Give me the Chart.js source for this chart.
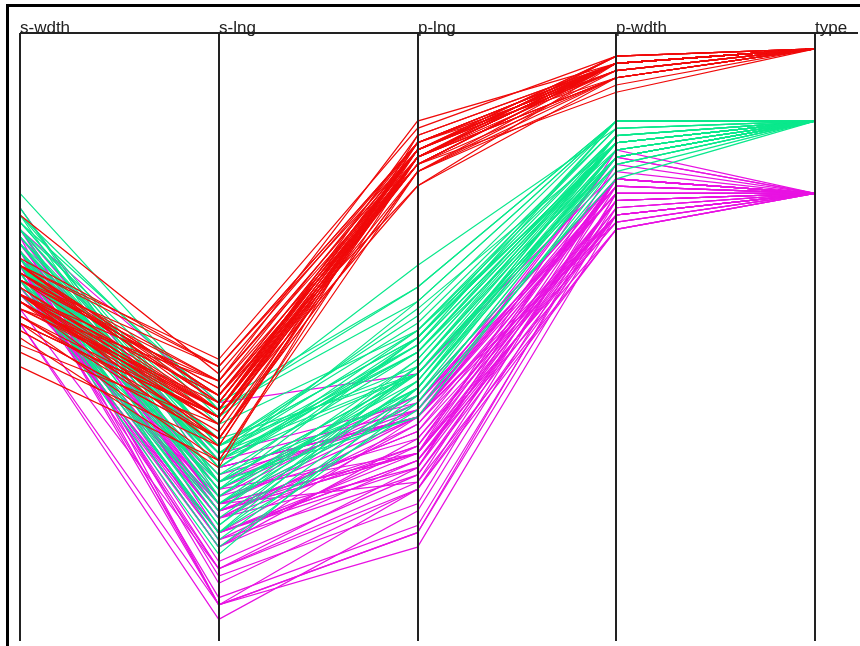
<!DOCTYPE html>
<html>
<head>
<meta charset="utf-8">
<script src="https://cdn.jsdelivr.net/npm/chart.js@4/dist/chart.umd.min.js"></script>
<style>
  body { margin: 0; background: #fff; }
  canvas { display: block; }
</style>
</head>
<body>
<canvas id="irisChart" width="860" height="646"></canvas>
<script>
// axis names, left to right
const axisNames = ["s-wdth", "s-lng", "p-lng", "p-wdth", "type"];
const classColors = ["rgb(240,10,10)", "rgb(10,232,140)", "rgb(232,18,226)"];

// each row: sepal width, sepal length, petal length, petal width
const setosa = [
  [3.5,5.1,1.4,0.2],[3.0,4.9,1.4,0.2],[3.2,4.7,1.3,0.2],[3.1,4.6,1.5,0.2],[3.6,5.0,1.4,0.2],
  [3.9,5.4,1.7,0.4],[3.4,4.6,1.4,0.3],[3.4,5.0,1.5,0.2],[2.9,4.4,1.4,0.2],[3.1,4.9,1.5,0.1],
  [3.7,5.4,1.5,0.2],[3.4,4.8,1.6,0.2],[3.0,4.8,1.4,0.1],[3.0,4.3,1.1,0.1],[4.0,5.8,1.2,0.2],
  [4.4,5.7,1.5,0.4],[3.9,5.4,1.3,0.4],[3.5,5.1,1.4,0.3],[3.8,5.7,1.7,0.3],[3.8,5.1,1.5,0.3],
  [3.4,5.4,1.7,0.2],[3.7,5.1,1.5,0.4],[3.6,4.6,1.0,0.2],[3.3,5.1,1.7,0.5],[3.4,4.8,1.9,0.2],
  [3.0,5.0,1.6,0.2],[3.4,5.0,1.6,0.4],[3.5,5.2,1.5,0.2],[3.4,5.2,1.4,0.2],[3.2,4.7,1.6,0.2],
  [3.1,4.8,1.6,0.2],[3.4,5.4,1.5,0.4],[4.1,5.2,1.5,0.1],[4.2,5.5,1.4,0.2],[3.1,4.9,1.5,0.2],
  [3.2,5.0,1.2,0.2],[3.5,5.5,1.3,0.2],[3.6,4.9,1.4,0.1],[3.0,4.4,1.3,0.2],[3.4,5.1,1.5,0.2],
  [3.5,5.0,1.3,0.3],[2.3,4.5,1.3,0.3],[3.2,4.4,1.3,0.2],[3.5,5.0,1.6,0.6],[3.8,5.1,1.9,0.4],
  [3.0,4.8,1.4,0.3],[3.8,5.1,1.6,0.2],[3.2,4.6,1.4,0.2],[3.7,5.3,1.5,0.2],[3.3,5.0,1.4,0.2]
];
const versicolor = [
  [3.2,7.0,4.7,1.4],[3.2,6.4,4.5,1.5],[3.1,6.9,4.9,1.5],[2.3,5.5,4.0,1.3],[2.8,6.5,4.6,1.5],
  [2.8,5.7,4.5,1.3],[3.3,6.3,4.7,1.6],[2.4,4.9,3.3,1.0],[2.9,6.6,4.6,1.3],[2.7,5.2,3.9,1.4],
  [2.0,5.0,3.5,1.0],[3.0,5.9,4.2,1.5],[2.2,6.0,4.0,1.0],[2.9,6.1,4.7,1.4],[2.9,5.6,3.6,1.3],
  [3.1,6.7,4.4,1.4],[3.0,5.6,4.5,1.5],[2.7,5.8,4.1,1.0],[2.2,6.2,4.5,1.5],[2.5,5.6,3.9,1.1],
  [3.2,5.9,4.8,1.8],[2.8,6.1,4.0,1.3],[2.5,6.3,4.9,1.5],[2.8,6.1,4.7,1.2],[2.9,6.4,4.3,1.3],
  [3.0,6.6,4.4,1.4],[2.8,6.8,4.8,1.4],[3.0,6.7,5.0,1.7],[2.9,6.0,4.5,1.5],[2.6,5.7,3.5,1.0],
  [2.4,5.5,3.8,1.1],[2.4,5.5,3.7,1.0],[2.7,5.8,3.9,1.2],[2.7,6.0,5.1,1.6],[3.0,5.4,4.5,1.5],
  [3.4,6.0,4.5,1.6],[3.1,6.7,4.7,1.5],[2.3,6.3,4.4,1.3],[3.0,5.6,4.1,1.3],[2.5,5.5,4.0,1.3],
  [2.6,5.5,4.4,1.2],[3.0,6.1,4.6,1.4],[2.6,5.8,4.0,1.2],[2.3,5.0,3.3,1.0],[2.7,5.6,4.2,1.3],
  [3.0,5.7,4.2,1.2],[2.9,5.7,4.2,1.3],[2.9,6.2,4.3,1.3],[2.5,5.1,3.0,1.1],[2.8,5.7,4.1,1.3]
];
const virginica = [
  [3.3,6.3,6.0,2.5],[2.7,5.8,5.1,1.9],[3.0,7.1,5.9,2.1],[2.9,6.3,5.6,1.8],[3.0,6.5,5.8,2.2],
  [3.0,7.6,6.6,2.1],[2.5,4.9,4.5,1.7],[2.9,7.3,6.3,1.8],[2.5,6.7,5.8,1.8],[3.6,7.2,6.1,2.5],
  [3.2,6.5,5.1,2.0],[2.7,6.4,5.3,1.9],[3.0,6.8,5.5,2.1],[2.5,5.7,5.0,2.0],[2.8,5.8,5.1,2.4],
  [3.2,6.4,5.3,2.3],[3.0,6.5,5.5,1.8],[3.8,7.7,6.7,2.2],[2.6,7.7,6.9,2.3],[2.2,6.0,5.0,1.5],
  [3.2,6.9,5.7,2.3],[2.8,5.6,4.9,2.0],[2.8,7.7,6.7,2.0],[2.7,6.3,4.9,1.8],[3.3,6.7,5.7,2.1],
  [3.2,7.2,6.0,1.8],[2.8,6.2,4.8,1.8],[3.0,6.1,4.9,1.8],[2.8,6.4,5.6,2.1],[3.0,7.2,5.8,1.6],
  [2.8,7.4,6.1,1.9],[3.8,7.9,6.4,2.0],[2.8,6.4,5.6,2.2],[2.8,6.3,5.1,1.5],[2.6,6.1,5.6,1.4],
  [3.0,7.7,6.1,2.3],[3.4,6.3,5.6,2.4],[3.1,6.4,5.5,1.8],[3.0,6.0,4.8,1.8],[3.1,6.9,5.4,2.1],
  [3.1,6.7,5.6,2.4],[3.1,6.9,5.1,2.3],[2.7,5.8,5.1,1.9],[3.2,6.8,5.9,2.3],[3.3,6.7,5.7,2.5],
  [3.0,6.7,5.2,2.3],[2.5,6.3,5.0,1.9],[3.0,6.5,5.2,2.0],[3.4,6.2,5.4,2.3],[3.0,5.9,5.1,1.8]
];
const classes = [setosa, versicolor, virginica];

// one line per flower; the last point is the class number
const datasets = [];
classes.forEach((rows, cls) => {
  rows.forEach((r) => {
    datasets.push({
      data: [r[0], r[1], r[2], r[3], cls],
      borderColor: classColors[cls],
      borderWidth: 1.2,
      pointRadius: 0,
      tension: 0,
      fill: false,
    });
  });
});

// frame, top rule, axis lines and names
const parallelAxes = {
  id: "parallelAxes",
  beforeDraw(chart) {
    const c = chart.ctx;
    c.save();
    c.fillStyle = "#fff";
    c.fillRect(0, 0, chart.width, chart.height);
    c.strokeStyle = "#000";
    c.lineWidth = 3;
    c.beginPath();
    c.moveTo(7.5, chart.height);
    c.lineTo(7.5, 5.5);
    c.lineTo(chart.width, 5.5);
    c.stroke();
    c.restore();
  },
  afterDatasetsDraw(chart) {
    const c = chart.ctx;
    const x = chart.scales.x;
    const area = chart.chartArea;
    c.save();
    c.strokeStyle = "#222";
    c.lineWidth = 2;
    c.beginPath();
    c.moveTo(area.left, area.top);
    c.lineTo(chart.width - 2, area.top);
    axisNames.forEach((name, i) => {
      const px = Math.round(x.getPixelForValue(i));
      c.moveTo(px, area.top);
      c.lineTo(px, area.bottom);
    });
    c.stroke();
    c.fillStyle = "#222";
    c.font = "17px 'Liberation Sans', Arial, sans-serif";
    c.textAlign = "left";
    c.textBaseline = "alphabetic";
    axisNames.forEach((name, i) => {
      c.fillText(name, Math.round(x.getPixelForValue(i)), area.top);
    });
    c.restore();
  },
};

const ctx = document.getElementById("irisChart").getContext("2d");
new Chart(ctx, {
  type: "line",
  data: { labels: axisNames, datasets: datasets },
  options: {
    responsive: false,
    animation: false,
    layout: { padding: { left: 20, right: 45, top: 33, bottom: 5 } },
    plugins: { legend: { display: false }, tooltip: { enabled: false } },
    scales: {
      x: { type: "category", offset: false, display: false },
      y: { reverse: true, min: -0.22, max: 8.2, display: false },
    },
  },
  plugins: [parallelAxes],
});
</script>
</body>
</html>
